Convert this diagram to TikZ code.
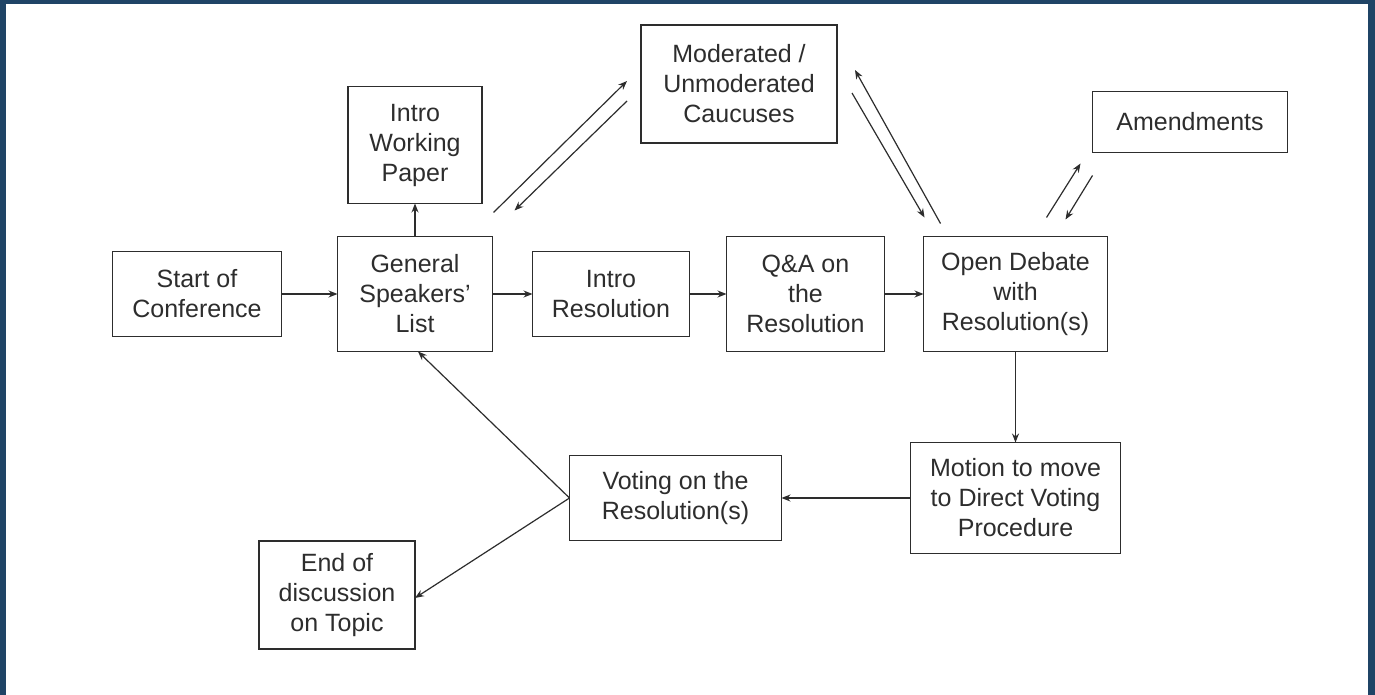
\documentclass[tikz,border=0pt]{standalone}
\usepackage{fontspec}
\setmainfont{Liberation Sans}
\usetikzlibrary{arrows.meta, positioning}
\definecolor{frameblue}{RGB}{31,68,102}
\definecolor{inkgray}{RGB}{45,45,45}
\tikzset{
  stepbox/.style={draw=inkgray, line width=1.3pt, text=inkgray, align=center, inner sep=0pt,
    outer sep=0pt, font=\fontsize{25}{30}\selectfont},
  flow/.style={-{Stealth[length=9pt, width=7pt]}, inkgray, line width=1.2pt},
}

\begin{document}
\begin{tikzpicture}[x=1pt, y=-1pt]
  \useasboundingbox (0,0) rectangle (1375,695);
  \fill[frameblue] (0,0) rectangle (1375,695);
  \fill[white] (6,4) rectangle (1368,695);

  \node[stepbox, minimum width=169pt, minimum height=85pt] (start) at (197,294) {Start of\\Conference};
  \node[stepbox, minimum width=155pt, minimum height=115pt, right=56pt of start] (gsl) {General\\Speakers'\\List};
  \node[stepbox, minimum width=134pt, minimum height=117pt, above=33pt of gsl] (iwp) {Intro\\Working\\Paper};
  \node[stepbox, minimum width=157pt, minimum height=85pt, right=40pt of gsl] (ires) {Intro\\Resolution};
  \node[stepbox, minimum width=158pt, minimum height=115pt, right=37pt of ires] (qa) {Q\&A on\\the\\Resolution};
  \node[stepbox, minimum width=184pt, minimum height=115pt, right=39pt of qa] (od) {Open Debate\\with\\Resolution(s)};
  \node[stepbox, minimum width=196pt, minimum height=118pt] (cauc) at (739,84) {Moderated /\\Unmoderated\\Caucuses};
  \node[stepbox, minimum width=195pt, minimum height=61pt] (amend) at (1190,122) {Amendments};
  \node[stepbox, minimum width=210pt, minimum height=111pt, below=91pt of od] (motion) {Motion to move\\to Direct Voting\\Procedure};
  \node[stepbox, minimum width=212pt, minimum height=85pt, left=129pt of motion] (vote) {Voting on the\\Resolution(s)};
  \node[stepbox, minimum width=156pt, minimum height=108pt] (end) at (337,595) {End of\\discussion\\on Topic};

  % main row
  \draw[flow] (start) -- (gsl);
  \draw[flow] (gsl) -- (iwp);
  \draw[flow] (gsl) -- (ires);
  \draw[flow] (ires) -- (qa);
  \draw[flow] (qa) -- (od);

  % caucus and amendment loops
  \draw[flow] ([shift={(1,-24)}]gsl.north east) -- ([shift={(-14,-3)}]cauc.west);
  \draw[flow] ([shift={(-14,17)}]cauc.west) -- ([shift={(22,-26)}]gsl.north east);
  \draw[flow] ([shift={(17,-13)}]od.north west) -- ([shift={(18,-14)}]cauc.east);
  \draw[flow] ([shift={(15,9)}]cauc.east) -- ([shift={(1,-19)}]od.north west);
  \draw[flow] ([shift={(-61,-19)}]od.north east) -- ([shift={(-12,11)}]amend.south west);
  \draw[flow] ([shift={(0,23)}]amend.south west) -- ([shift={(-42,-17)}]od.north east);

  % voting
  \draw[flow] (od) -- (motion);
  \draw[flow] (motion) -- (vote);
  \draw[flow] (vote.west) -- ([xshift=3pt]gsl.south);
  \draw[flow] (vote.west) -- ([yshift=-3pt]end.east);
\end{tikzpicture}
\end{document}
